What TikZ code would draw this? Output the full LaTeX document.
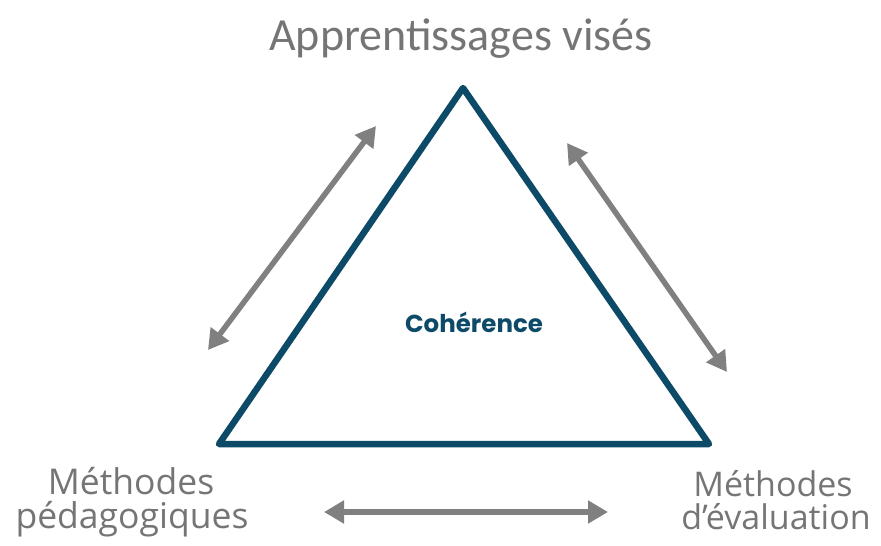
\documentclass[tikz,border=0pt]{standalone}
\usepackage{fontspec}
\setmainfont{Carlito}
\newfontfamily\labfont{Open Sans}
\newfontfamily\cohfont{Poppins}[BoldFont={* Bold}]
\usetikzlibrary{arrows.meta}
\definecolor{tri}{HTML}{0C4A68}
\definecolor{arr}{HTML}{808080}
\definecolor{txt}{HTML}{757575}
\tikzset{
  twoway/.style={draw=arr, line width=5.5pt, {Triangle[length=20pt,width=22pt]}-{Triangle[length=20pt,width=22pt]}},
  corner/.style={text=txt, font=\labfont\fontsize{35.5}{34}\selectfont, inner sep=0pt, anchor=base},
}
\begin{document}
\begin{tikzpicture}[x=1pt,y=-1pt]
\useasboundingbox (0,0) rectangle (881,546);
\coordinate (T) at (463,88);
\coordinate (L) at (219,444);
\coordinate (R) at (709,444);
\draw[tri, line width=6.5pt, line join=round] (T) -- (L) -- (R) -- cycle;
\node[text=txt, font=\fontsize{46}{50}\selectfont, inner sep=0pt, anchor=base] (top) at (461,50) {Apprentissages visés};
\node[text=tri, font=\cohfont\bfseries\fontsize{24.5}{28}\selectfont, inner sep=0pt, anchor=base] (coh) at (474,332) {Cohérence};
\node[corner] (ped1) at (131,494) {Méthodes};
\node[corner] (ped2) at (132,528) {pédagogiques};
\node[corner, font=\labfont\fontsize{34}{34}\selectfont] (eval1) at (773,496) {Méthodes};
\node[corner, font=\labfont\fontsize{34}{34}\selectfont] (eval2) at (776,529) {d’évaluation};
\coordinate (a1) at (208,350);
\coordinate (a2) at (376,126);
\coordinate (b1) at (567,143);
\coordinate (b2) at (727,372);
\coordinate (c1) at (324,512);
\coordinate (c2) at (608,512);
\draw[twoway] (a1) -- (a2);
\draw[twoway] (b1) -- (b2);
\draw[twoway] (c1) -- (c2);
\end{tikzpicture}
\end{document}
